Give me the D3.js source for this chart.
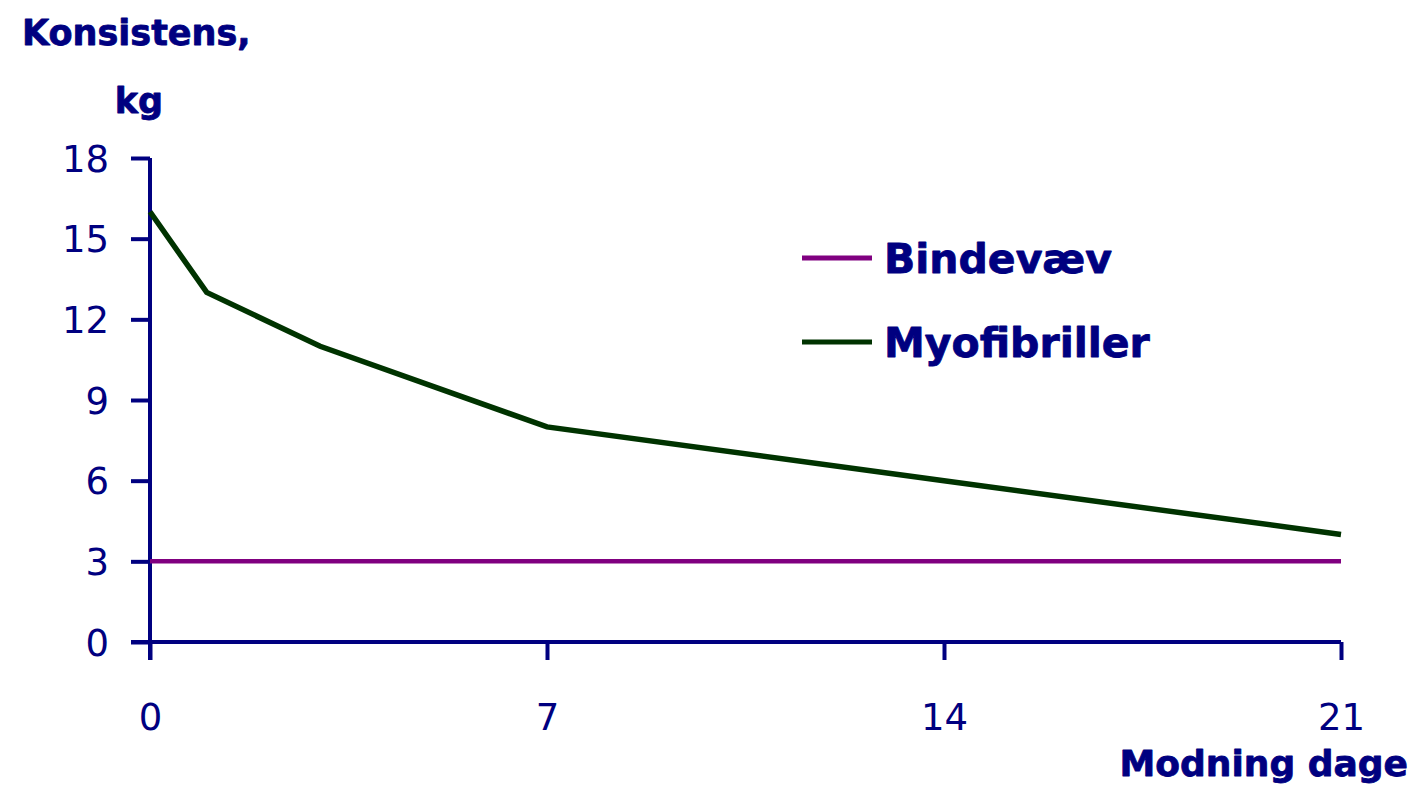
<!DOCTYPE html>
<html>
<head>
<meta charset="utf-8">
<script src="https://cdn.jsdelivr.net/npm/d3@7"></script>
<style>
  html, body { margin: 0; padding: 0; background: #fff; }
  svg { display: block; }
  text { fill: #000080; }
</style>
</head>
<body>
<svg id="chart" width="1422" height="792"></svg>
<script>
// Aging days and measured toughness (kg)
const days = [0, 1, 3, 7, 14, 21];
const bindevaev = [3, 3, 3, 3, 3, 3];
const myofibriller = [16, 13, 11, 8, 6, 4];
const xTicks = [0, 7, 14, 21];
const yTicks = [0, 3, 6, 9, 12, 15, 18];
const seriesNames = ["Bindevæv", "Myofibriller"];
const seriesColors = ["#800080", "#003300"];

const axisColor = "#000080";
const fontRegular = "'Comic Sans MS', 'DejaVu Sans', sans-serif";

const svg = d3.select("#chart");
const x = d3.scaleLinear().domain([0, 21]).range([150, 1341]);
const y = d3.scaleLinear().domain([0, 18]).range([642, 158]);

// Y axis
const yAxis = svg.append("g")
  .attr("transform", `translate(${x(0)},0)`)
  .call(d3.axisLeft(y).tickValues(yTicks).tickSize(19).tickPadding(22));
yAxis.select(".domain").remove();
yAxis.append("line")
  .attr("x1", 0).attr("x2", 0)
  .attr("y1", y(18)).attr("y2", y(0) + 18)
  .attr("stroke", axisColor).attr("stroke-width", 4);
yAxis.selectAll(".tick line").attr("stroke", axisColor).attr("stroke-width", 4);
yAxis.selectAll(".tick text")
  .attr("fill", axisColor)
  .style("font-family", fontRegular)
  .style("font-size", "37px")
  .attr("dy", "0.36em");

// X axis
const xAxis = svg.append("g")
  .attr("transform", `translate(0,${y(0)})`)
  .call(d3.axisBottom(x).tickValues(xTicks).tickSize(18).tickPadding(44));
xAxis.select(".domain").remove();
xAxis.append("line")
  .attr("x1", x(0) - 19).attr("x2", x(21))
  .attr("y1", 0).attr("y2", 0)
  .attr("stroke", axisColor).attr("stroke-width", 4);
xAxis.selectAll(".tick line").attr("stroke", axisColor).attr("stroke-width", 4);
xAxis.selectAll(".tick text")
  .attr("fill", axisColor)
  .style("font-family", fontRegular)
  .style("font-size", "37px");

// Data lines
const line = d3.line().x((d, i) => x(days[i])).y(d => y(d));
svg.append("path").datum(bindevaev)
  .attr("d", line).attr("fill", "none")
  .attr("stroke", seriesColors[0]).attr("stroke-width", 4.5);
svg.append("path").datum(myofibriller)
  .attr("d", line).attr("fill", "none")
  .attr("stroke", seriesColors[1]).attr("stroke-width", 5.5)
  .attr("stroke-linejoin", "miter");

// Axis titles
const titleStyle = sel => sel
  .style("font-family", fontRegular)
  .style("font-weight", "bold")
  .attr("fill", axisColor)
  .attr("stroke", axisColor)
  .attr("stroke-width", 0.8)
  .attr("stroke-linejoin", "round");
svg.append("text").attr("x", 22).attr("y", 45).text("Konsistens,")
  .call(titleStyle).style("font-size", "35px");
svg.append("text").attr("x", 139).attr("y", 113).attr("text-anchor", "middle").text("kg")
  .call(titleStyle).style("font-size", "35px");
svg.append("text").attr("x", 1408).attr("y", 776).attr("text-anchor", "end").text("Modning dage")
  .call(titleStyle).style("font-size", "36px");

// Legend
const legendY = [258, 342];
const legend = svg.append("g");
seriesNames.forEach((name, i) => {
  legend.append("line")
    .attr("x1", 802).attr("x2", 872)
    .attr("y1", legendY[i]).attr("y2", legendY[i])
    .attr("stroke", seriesColors[i]).attr("stroke-width", 5);
  legend.append("text")
    .attr("x", 884).attr("y", legendY[i]).attr("dy", "0.36em")
    .text(name)
    .call(titleStyle).style("font-size", "41px");
});
</script>
</body>
</html>
